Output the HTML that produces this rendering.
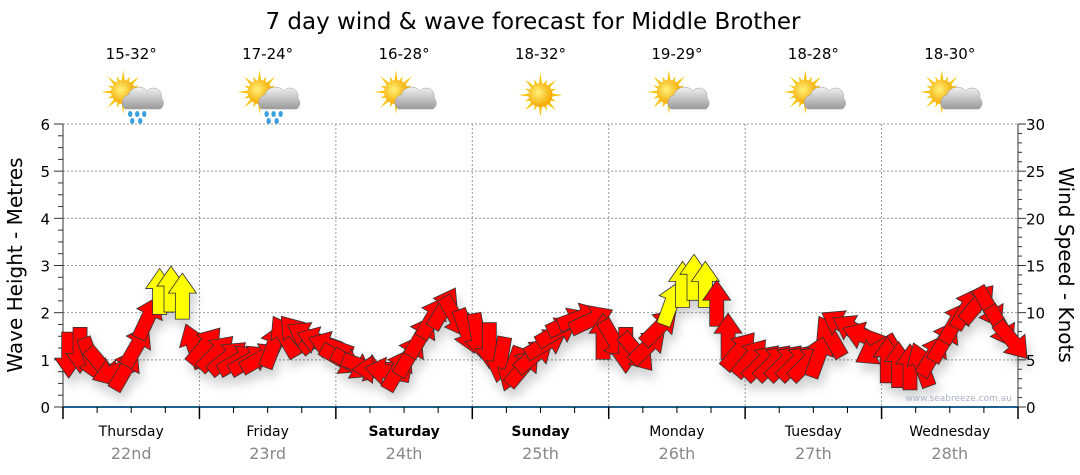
<!DOCTYPE html>
<html><head><meta charset="utf-8"><style>
body{margin:0;background:#fff;}
svg{display:block;font-family:"DejaVu Sans","Liberation Sans",sans-serif;}
</style></head><body>
<svg id="chart" width="1080" height="475" viewBox="0 0 1080 475" xmlns="http://www.w3.org/2000/svg">
<defs>
<radialGradient id="sunG" cx="0.4" cy="0.4" r="0.6"><stop offset="0" stop-color="#fff27a"/><stop offset="1" stop-color="#f5a800"/></radialGradient>
<linearGradient id="cloudG" x1="0" y1="0" x2="0" y2="1"><stop offset="0" stop-color="#f2f2f2"/><stop offset="1" stop-color="#9a9a9a"/></linearGradient>
<filter id="sh" x="-30%" y="-30%" width="160%" height="180%"><feDropShadow dx="3" dy="8" stdDeviation="5" flood-color="#000" flood-opacity="0.18"/></filter>
</defs>
<text x="533" y="29" font-size="23" text-anchor="middle" fill="#000">7 day wind &amp; wave forecast for Middle Brother</text>
<g id="grid"></g>
<g id="axes"></g>
<g id="icons"></g>
<g id="arrows" filter="url(#sh)"></g>
<text x="1012" y="401" font-size="9" text-anchor="end" fill="#aab4c0">www.seabreeze.com.au</text>
<text transform="translate(22,265) rotate(-90)" font-size="20" text-anchor="middle">Wave Height - Metres</text>
<text transform="translate(1059,265) rotate(90)" font-size="20" text-anchor="middle">Wind Speed - Knots</text>
</svg>
<script>
const days=["Thursday","Friday","Saturday","Sunday","Monday","Tuesday","Wednesday"];
const dates=["22nd","23rd","24th","25th","26th","27th","28th"];
const boldDays=[false,false,true,true,false,false,false];
const temps=["15-32°","17-24°","16-28°","18-32°","19-29°","18-28°","18-30°"];
const icons=["rain","rain","cloud","sun","cloud","cloud","cloud"];
const waveTicks=[0,1,2,3,4,5,6];
const windTicks=[0,5,10,15,20,25,30];
const waveHeights=[
1.1,1.2,1.0,0.85,0.75,0.8,1.3,1.9,2.45,2.5,2.35,1.3,
1.3,1.15,1.05,1.0,1.0,1.05,1.3,1.5,1.55,1.5,1.4,1.3,
1.0,0.9,0.85,0.8,0.75,0.8,1.1,1.5,1.9,2.1,1.9,1.6,
1.5,1.3,1.0,0.8,0.85,1.1,1.35,1.6,1.8,1.9,1.85,1.5,
1.4,1.2,1.15,1.3,1.7,2.2,2.6,2.75,2.6,2.2,1.5,1.2,
1.05,0.95,0.95,0.95,0.95,0.95,1.1,1.5,1.75,1.65,1.5,1.2,
1.0,0.9,0.85,0.9,1.1,1.4,1.8,2.1,2.2,2.1,1.7,1.4];
const windDirs=[
180,180,160,140,250,30,30,25,0,0,0,340,
40,45,50,60,60,60,20,330,320,300,290,290,
120,120,110,270,280,30,30,30,30,30,150,160,
170,180,190,200,40,50,60,60,65,70,65,0,
150,180,140,45,45,20,0,0,0,0,0,40,
40,45,45,45,45,45,20,330,300,300,290,240,
0,0,0,340,30,30,30,30,40,150,150,140];
const windSpeeds=[
8,8,7,7,7,8,10,12,16,17,16,10,
9,8,8,8,8,8,10,11,11,10,10,9,
7,6,6,6,6,7,9,11,12,13,12,11,
10,8,6,6,7,9,10,11,12,12,12,10,
9,8,9,10,12,15,16,17,16,13,10,8,
7,7,7,7,7,7,9,11,12,11,10,8,
7,6,6,7,9,10,12,13,13,12,11,10];

const NS="http://www.w3.org/2000/svg";
const X0=63,X1=1018,Y0=407,Y6=124;
const dayW=(X1-X0)/7;
const perDay=12;
const yWave=v=>Y0-(v/6)*(Y0-Y6);
const yWind=v=>Y0-(v/30)*(Y0-Y6);
const xIdx=i=>X0+(i+0.5)*(dayW/perDay);
function mk(tag,attrs,parent){const e=document.createElementNS(NS,tag);for(const k in attrs)e.setAttribute(k,attrs[k]);parent.appendChild(e);return e;}
const grid=document.getElementById('grid'),axes=document.getElementById('axes'),ic=document.getElementById('icons'),ar=document.getElementById('arrows');
waveTicks.forEach(v=>{
  if(v>0){const l=mk('line',{x1:X0,x2:X1,y1:yWave(v),y2:yWave(v),stroke:'#999','stroke-dasharray':'2,2'},grid);
  
  }
  const t=mk('text',{x:50,y:yWave(v)+6,'font-size':15,'text-anchor':'end'},axes);t.textContent=v;
  
  
});
for(let k=0;k<=24;k++){const y=Y0-k*(Y0-Y6)/24;mk('line',{x1:X0-(k%4?5:9),x2:X0,y1:y,y2:y,stroke:'#333'},axes);}
for(let k=0;k<=30;k++){const y=yWind(k);mk('line',{x1:X1,x2:X1+(k%5?4:8),y1:y,y2:y,stroke:'#333'},axes);}
windTicks.forEach(v=>{const t=mk('text',{x:1026,y:yWind(v)+6,'font-size':15},axes);t.textContent=v;
  
  });
mk('line',{x1:X0,x2:X0,y1:Y6,y2:Y0,stroke:'#333'},axes);
mk('line',{x1:X1,x2:X1,y1:Y6,y2:Y0,stroke:'#333'},axes);
mk('line',{x1:X0,x2:X1,y1:Y0,y2:Y0,stroke:'#1f5f8b','stroke-width':2},axes);
for(let d=0;d<=7;d++){
  const x=X0+d*dayW;
  if(d>0&&d<7){const l=mk('line',{x1:x,x2:x,y1:Y6,y2:Y0,stroke:'#999','stroke-dasharray':'2,2'},grid);
  
  }
  mk('line',{x1:x,x2:x,y1:Y0,y2:Y0+12,stroke:'#000','stroke-width':1.5},axes);
  if(d<7)for(let q=1;q<4;q++){const xq=x+q*dayW/4;mk('line',{x1:xq,x2:xq,y1:Y0,y2:Y0+6,stroke:'#000'},axes);}
}
days.forEach((d,i)=>{
  const cx=X0+(i+0.5)*dayW;
  const t=mk('text',{x:cx,y:436,'font-size':14,'text-anchor':'middle','font-weight':boldDays[i]?'bold':'normal'},axes);t.textContent=d;
  
  
  const t2=mk('text',{x:cx,y:459,'font-size':16,'text-anchor':'middle',fill:'#888'},axes);t2.textContent=dates[i];
  
  
  const t3=mk('text',{x:cx,y:59,'font-size':15,'text-anchor':'middle'},ic);t3.textContent=temps[i];
  
  
  const g=mk('g',{transform:`translate(${cx},95)`},ic);
  
  
  const sx=icons[i]==='sun'?0:-8, sy=icons[i]==='sun'?0:-3;
  for(let r=0;r<16;r++){const a=r*Math.PI/8,len=r%2?17:22;
    mk('polygon',{points:`${sx+Math.cos(a-0.18)*10},${sy+Math.sin(a-0.18)*10} ${sx+Math.cos(a)*len},${sy+Math.sin(a)*len} ${sx+Math.cos(a+0.18)*10},${sy+Math.sin(a+0.18)*10}`,fill:'#f7c40a'},g);}
  mk('circle',{cx:sx,cy:sy,r:12,fill:'url(#sunG)'},g);
  if(icons[i]!=='sun'){
    mk('path',{d:'M-6,14 a8,8 0 0 1 3,-14 a11,11 0 0 1 19,-4 a8,8 0 0 1 14,7 a7,7 0 0 1 -1,11 z',fill:'url(#cloudG)',stroke:'#999','stroke-width':0.5},g);
  }
  if(icons[i]==='rain'){[[-1,19],[6,19],[13,19],[1,26],[9,26]].forEach(p=>mk('ellipse',{cx:p[0],cy:p[1],rx:2.2,ry:3,fill:'#3aa0e0'},g));}
});
waveHeights.forEach((h,i)=>{
  const p=mk('polygon',{points:'0,-23 14,-3 7,-3 7,23 -7,23 -7,-3 -14,-3',fill:windSpeeds[i]>=15?'#ffff00':'#ff0000',stroke:'#333','stroke-width':0.8,transform:`translate(${xIdx(i)},${yWave(h)}) rotate(${windDirs[i]})`},ar);
  
  
});
</script>
</body></html>
